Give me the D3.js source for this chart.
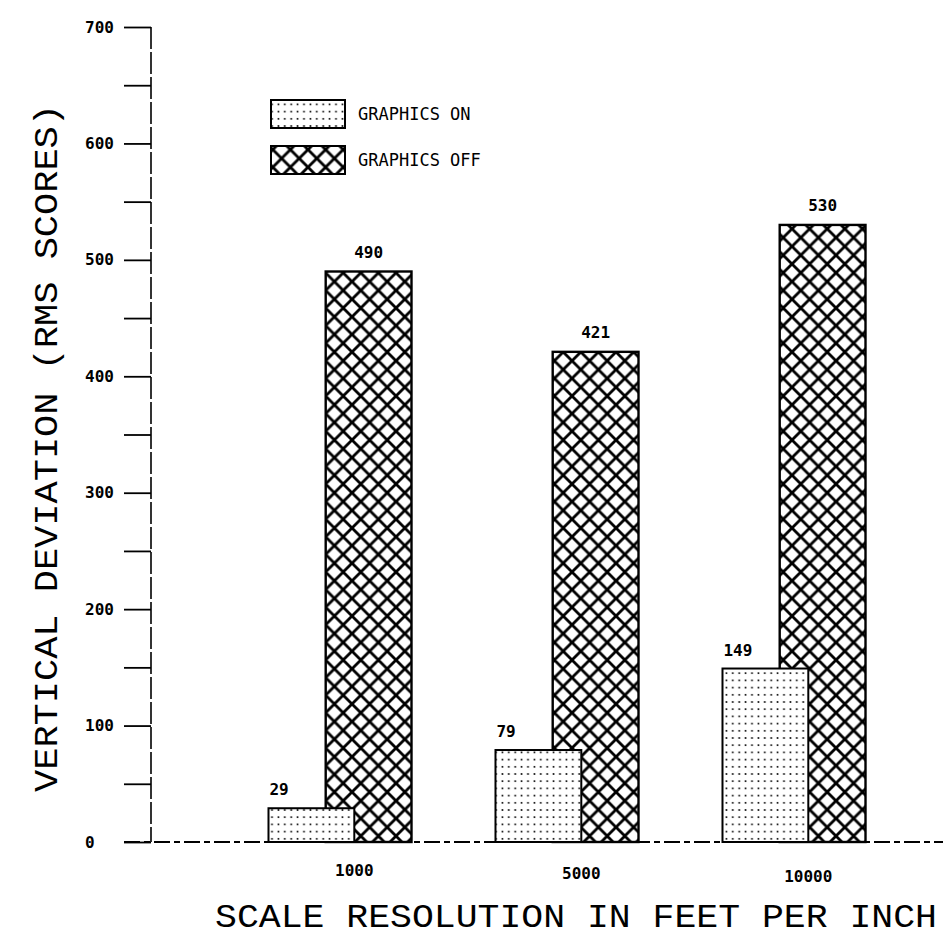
<!DOCTYPE html>
<html>
<head>
<meta charset="utf-8">
<script src="https://cdn.jsdelivr.net/npm/d3@7/dist/d3.min.js"></script>
<style>
  html, body { margin: 0; padding: 0; background: #fff; }
  svg { display: block; }
</style>
</head>
<body>
<div id="chart"></div>
<script>
// ---- data ----
const categories = ["1000", "5000", "10000"];
const graphicsOn = [29, 79, 149];
const graphicsOff = [490, 421, 530];
const seriesNames = ["GRAPHICS ON", "GRAPHICS OFF"];
const yTickLabels = [0, 100, 200, 300, 400, 500, 600, 700];
const yTitle = "VERTICAL DEVIATION (RMS SCORES)";
const xTitle = "SCALE RESOLUTION IN FEET PER INCH";

const W = 943, H = 945;
const svg = d3.select("#chart").append("svg").attr("width", W).attr("height", H);

const defs = svg.append("defs");
// dotted pattern
const dots = defs.append("pattern").attr("id", "dots").attr("patternUnits", "userSpaceOnUse")
  .attr("width", 6.4).attr("height", 7.2);
dots.append("circle").attr("cx", 3.2).attr("cy", 3.6).attr("r", 1.0).attr("fill", "#000");
// crosshatch pattern
const hs = 17.6;
const hatch = defs.append("pattern").attr("id", "hatch").attr("patternUnits", "userSpaceOnUse")
  .attr("width", hs).attr("height", hs);
hatch.append("path")
  .attr("d", `M0,0L${hs},${hs}M${hs},0L0,${hs}M${-hs/2},${hs/2}L${hs/2},${hs*1.5}M${hs/2},${-hs/2}L${hs*1.5},${hs/2}M${hs/2},${-hs/2}L${-hs/2},${hs/2}M${hs*1.5},${hs/2}L${hs/2},${hs*1.5}`)
  .attr("stroke", "#000").attr("stroke-width", 2.8).attr("fill", "none");

const y = d3.scaleLinear().domain([0, 700]).range([842, 27]);
const x = d3.scaleBand().domain(categories).range([226.5, 907.5])
  .paddingInner(0.37).paddingOuter(0.185);
const bw = x.bandwidth();

// ---- y axis ----
const axisX = 151;
const yAxis = d3.axisLeft(y).tickValues(d3.range(0, 701, 50)).tickSize(27).tickFormat("");
const gAxis = svg.append("g").attr("transform", `translate(${axisX},0)`).call(yAxis);
gAxis.select(".domain").remove();
gAxis.selectAll(".tick line").attr("stroke", "#000").attr("stroke-width", 1.8);
svg.append("line").attr("x1", axisX).attr("x2", axisX).attr("y1", y(700)).attr("y2", y(0))
  .attr("stroke", "#000").attr("stroke-width", 1.6).attr("stroke-dasharray", "22,3");

svg.append("g").selectAll("text").data(yTickLabels).join("text")
  .attr("x", 85).attr("y", d => y(d)).attr("dy", "0.35em")
  .attr("font-family", "DejaVu Sans Mono").attr("font-weight", "bold").attr("font-size", 16)
  .attr("fill", "#000").text(d => d);

// baseline
svg.append("line").attr("x1", 124).attr("x2", 943).attr("y1", y(0)).attr("y2", y(0))
  .attr("stroke", "#000").attr("stroke-width", 1.8).attr("stroke-dasharray", "16,4,6,4");

// ---- bars ----
const offW = bw * 0.6, onW = bw * 0.6;
svg.append("g").selectAll("rect").data(categories).join("rect")
  .attr("x", (d) => x(d) + bw * 0.4).attr("width", offW)
  .attr("y", (d, i) => y(graphicsOff[i])).attr("height", (d, i) => y(0) - y(graphicsOff[i]))
  .attr("fill", "#fff").attr("stroke", "none");
svg.append("g").selectAll("rect").data(categories).join("rect")
  .attr("x", (d) => x(d) + bw * 0.4).attr("width", offW)
  .attr("y", (d, i) => y(graphicsOff[i])).attr("height", (d, i) => y(0) - y(graphicsOff[i]))
  .attr("fill", "url(#hatch)").attr("stroke", "#000").attr("stroke-width", 2.4);
svg.append("g").selectAll("rect").data(categories).join("rect")
  .attr("x", (d) => x(d)).attr("width", onW)
  .attr("y", (d, i) => y(graphicsOn[i])).attr("height", (d, i) => y(0) - y(graphicsOn[i]))
  .attr("fill", "#fff").attr("stroke", "none");
svg.append("g").selectAll("rect").data(categories).join("rect")
  .attr("x", (d) => x(d)).attr("width", onW)
  .attr("y", (d, i) => y(graphicsOn[i])).attr("height", (d, i) => y(0) - y(graphicsOn[i]))
  .attr("fill", "url(#dots)").attr("stroke", "#000").attr("stroke-width", 2);

// value labels
const lblFont = { family: "DejaVu Sans Mono", size: 16 };
svg.append("g").selectAll("text").data(categories).join("text")
  .attr("x", d => x(d) + 1).attr("y", (d, i) => y(graphicsOn[i]) - 13)
  .attr("font-family", lblFont.family).attr("font-weight", "bold").attr("font-size", lblFont.size)
  .attr("fill", "#000").text((d, i) => graphicsOn[i]);
svg.append("g").selectAll("text").data(categories).join("text")
  .attr("x", d => x(d) + bw * 0.4 + offW / 2).attr("y", (d, i) => y(graphicsOff[i]) - 14)
  .attr("text-anchor", "middle")
  .attr("font-family", lblFont.family).attr("font-weight", "bold").attr("font-size", lblFont.size)
  .attr("fill", "#000").text((d, i) => graphicsOff[i]);

// x tick labels
svg.append("g").selectAll("text").data(categories).join("text")
  .attr("x", d => x(d) + onW).attr("y", (d, i) => 876 + i * 3)
  .attr("text-anchor", "middle")
  .attr("font-family", "DejaVu Sans Mono").attr("font-weight", "bold").attr("font-size", 16)
  .attr("fill", "#000").text(d => d);

// ---- titles ----
svg.append("text")
  .attr("x", 215).attr("y", 927)
  .attr("textLength", 722).attr("lengthAdjust", "spacingAndGlyphs")
  .attr("font-family", "Liberation Mono").attr("font-size", 34)
  .attr("fill", "#000").text(xTitle);
svg.append("text")
  .attr("transform", "translate(57,792) rotate(-90)")
  .attr("textLength", 688).attr("lengthAdjust", "spacingAndGlyphs")
  .attr("font-family", "Liberation Mono").attr("font-size", 34)
  .attr("fill", "#000").text(yTitle);

// ---- legend ----
const legend = svg.append("g");
const legendY = [100, 146];
const legendFill = ["url(#dots)", "url(#hatch)"];
legend.selectAll("rect").data(seriesNames).join("rect")
  .attr("x", 271).attr("y", (d, i) => legendY[i]).attr("width", 74).attr("height", 28)
  .attr("fill", (d, i) => legendFill[i]).attr("stroke", "#000").attr("stroke-width", 2);
legend.selectAll("text").data(seriesNames).join("text")
  .attr("x", 358).attr("y", (d, i) => legendY[i] + 20)
  .attr("font-family", "DejaVu Sans Mono").attr("font-size", 17)
  .attr("fill", "#000").text(d => d);
</script>
</body>
</html>
